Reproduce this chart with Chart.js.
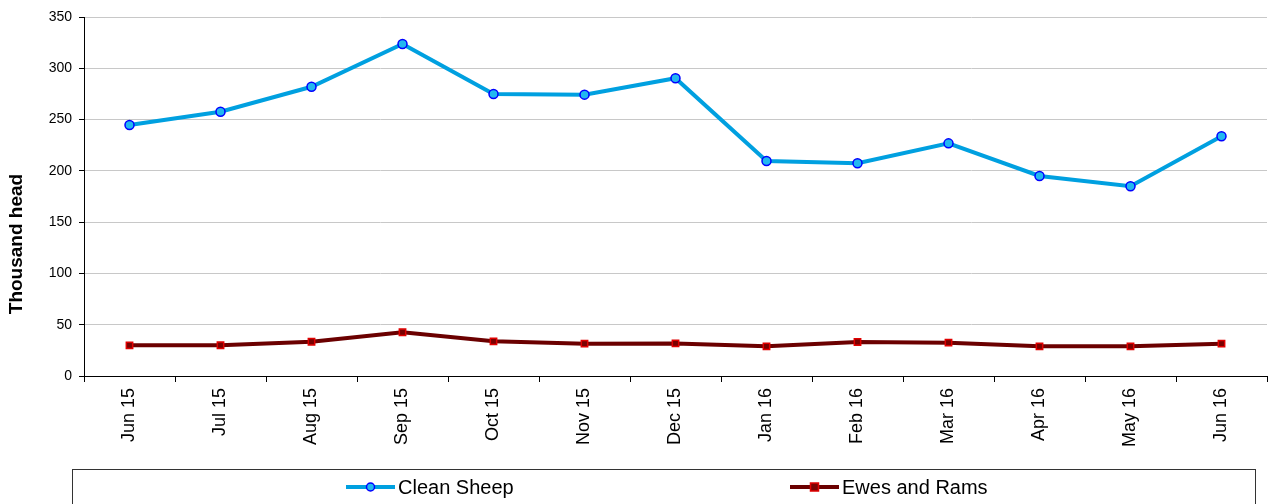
<!DOCTYPE html>
<html>
<head>
<meta charset="utf-8">
<script src="https://cdn.jsdelivr.net/npm/chart.js@4"></script>
<style>
  html, body { margin: 0; padding: 0; background: #fff; }
  #wrap { width: 1269px; height: 504px; position: relative; }
</style>
</head>
<body>
<div id="wrap"><canvas id="c"></canvas></div>
<script>
// Monthly slaughterings, thousand head
const months = ['Jun 15', 'Jul 15', 'Aug 15', 'Sep 15', 'Oct 15', 'Nov 15', 'Dec 15',
                'Jan 16', 'Feb 16', 'Mar 16', 'Apr 16', 'May 16', 'Jun 16'];
const cleanSheep = [244.7, 257.6, 282, 323.7, 275, 274.3, 290.3, 209.6, 207.4, 226.8, 195, 185, 233.7];
const ewesAndRams = [29.9, 30, 33.4, 42.6, 33.8, 31.5, 31.8, 28.9, 33.1, 32.5, 28.9, 28.9, 31.5];
const yTicks = [0, 50, 100, 150, 200, 250, 300, 350];
const yTitle = 'Thousand head';

const FONT = '"Liberation Sans", Arial, sans-serif';

// Vertical axis title, centred on the page height rather than the plot
const axisTitle = {
  id: 'axisTitle',
  afterDraw(chart) {
    const ctx = chart.ctx;
    ctx.save();
    ctx.translate(17, 244);
    ctx.rotate(-Math.PI / 2);
    ctx.fillStyle = '#000';
    ctx.font = 'bold 19px ' + FONT;
    ctx.textAlign = 'center';
    ctx.textBaseline = 'middle';
    ctx.fillText(yTitle, 0, 0);
    ctx.restore();
  }
};

// Boxed legend laid out under the axis labels
const boxedLegend = {
  id: 'boxedLegend',
  afterDraw(chart) {
    const ctx = chart.ctx;
    ctx.save();
    ctx.strokeStyle = '#333';
    ctx.lineWidth = 1;
    ctx.strokeRect(72.5, 469.5, 1183, 60);
    const starts = [346, 790];
    const cy = 487;
    chart.data.datasets.forEach((ds, i) => {
      const x0 = starts[i];
      ctx.strokeStyle = ds.borderColor;
      ctx.lineWidth = 4;
      ctx.beginPath();
      ctx.moveTo(x0, cy);
      ctx.lineTo(x0 + 49, cy);
      ctx.stroke();
      ctx.fillStyle = ds.pointBackgroundColor;
      ctx.strokeStyle = ds.pointBorderColor;
      ctx.lineWidth = 1.5;
      const mx = x0 + 24.5;
      if (ds.pointStyle === 'rect') {
        ctx.fillRect(mx - 4, cy - 4, 8, 8);
        ctx.strokeRect(mx - 4, cy - 4, 8, 8);
      } else {
        ctx.beginPath();
        ctx.arc(mx, cy, 4, 0, Math.PI * 2);
        ctx.fill();
        ctx.stroke();
      }
      ctx.fillStyle = '#000';
      ctx.font = '20px ' + FONT;
      ctx.textBaseline = 'middle';
      ctx.textAlign = 'left';
      ctx.fillText(ds.label, x0 + 52, cy + 1);
    });
    ctx.restore();
  }
};

new Chart(document.getElementById('c'), {
  type: 'line',
  data: {
    labels: months,
    datasets: [
      {
        label: 'Clean Sheep',
        data: cleanSheep,
        borderColor: '#00A0E0',
        borderWidth: 4,
        pointStyle: 'circle',
        pointRadius: 4.5,
        pointBorderWidth: 1.5,
        pointBorderColor: '#0000FF',
        pointBackgroundColor: '#22B8F0',
        tension: 0,
        fill: false
      },
      {
        label: 'Ewes and Rams',
        data: ewesAndRams,
        borderColor: '#6B0000',
        borderWidth: 4,
        pointStyle: 'rect',
        pointRadius: 4.5,
        pointBorderWidth: 1.5,
        pointBorderColor: '#E00000',
        pointBackgroundColor: '#7A0000',
        tension: 0,
        fill: false
      }
    ]
  },
  options: {
    responsive: true,
    maintainAspectRatio: false,
    animation: false,
    layout: { autoPadding: false, padding: { top: 17, right: 2, bottom: 0, left: 0 } },
    plugins: {
      legend: { display: false },
      tooltip: { enabled: false }
    },
    scales: {
      x: {
        offset: true,
        grid: {
          offset: true,
          drawOnChartArea: false,
          drawTicks: true,
          tickLength: 6,
          tickColor: '#000'
        },
        border: { color: '#000', width: 1 },
        ticks: {
          minRotation: 90,
          maxRotation: 90,
          padding: 6,
          color: '#000',
          font: { family: FONT, size: 18 }
        },
        afterFit(scale) {
          scale.height = 128;
          scale.paddingLeft = 0;
          scale.paddingRight = 0;
        }
      },
      y: {
        min: 0,
        max: 350,
        afterBuildTicks(scale) { scale.ticks = yTicks.map(v => ({ value: v })); },
        grid: {
          color: '#C8C8C8',
          lineWidth: 1,
          drawTicks: true,
          tickLength: 5,
          tickColor: '#000'
        },
        border: { color: '#000', width: 1 },
        ticks: {
          padding: 7,
          color: '#000',
          font: { family: FONT, size: 14 }
        },
        afterFit(scale) { scale.width = 84; }
      }
    }
  },
  plugins: [axisTitle, boxedLegend]
});
</script>
</body>
</html>
